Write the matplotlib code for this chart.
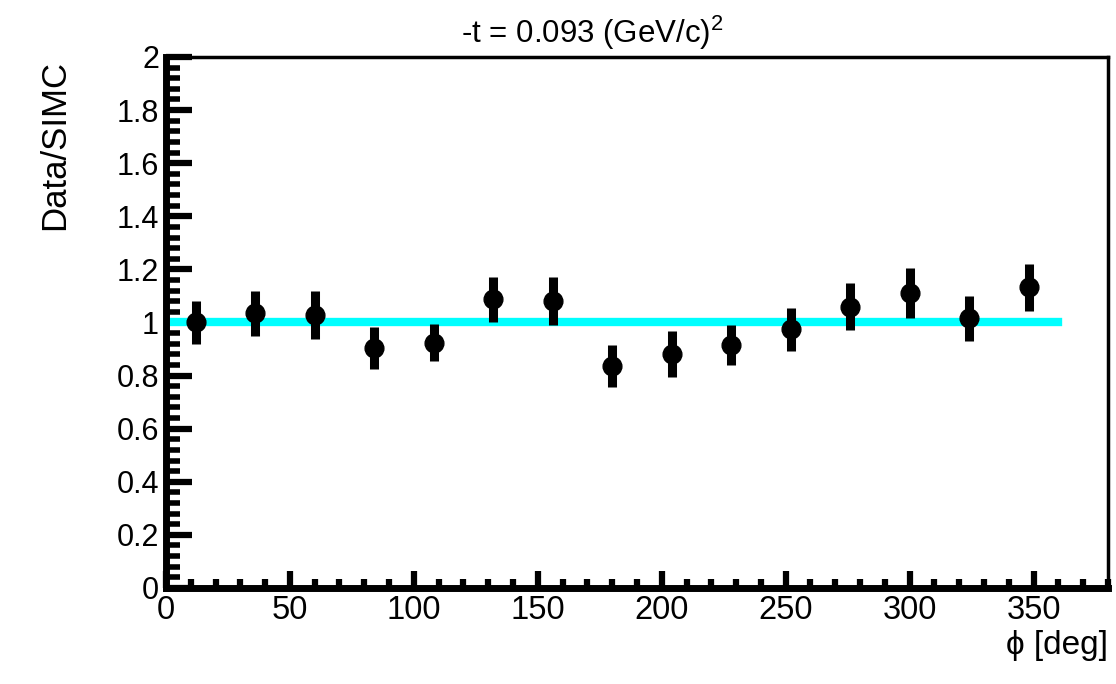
import matplotlib.pyplot as plt
from matplotlib.ticker import MultipleLocator

plt.rcParams['font.family'] = ['Liberation Sans', 'DejaVu Sans']
plt.rcParams['mathtext.fontset'] = 'custom'
plt.rcParams['mathtext.rm'] = 'Liberation Sans'
plt.rcParams['mathtext.it'] = 'Liberation Sans:italic'

# ====== Datos ======
phi = [12, 36, 60, 84, 108, 132, 156, 180, 204, 228, 252, 276, 300, 324, 348]
ratio = [1.00, 1.035, 1.028, 0.903, 0.924, 1.087, 1.082, 0.836, 0.881,
         0.915, 0.974, 1.06, 1.11, 1.016, 1.132]
err = [0.08, 0.085, 0.09, 0.08, 0.07, 0.085, 0.09, 0.08, 0.088,
       0.075, 0.08, 0.09, 0.094, 0.085, 0.088]

# linea de ajuste (constante)
fit_x = [0, 360]
fit_y = [1.003, 1.003]

fig = plt.figure(figsize=(11.16, 6.84), dpi=100)
ax = fig.add_axes([0.1487, 0.1404, 0.8441, 0.7763])

ax.plot(fit_x, fit_y, color='#00ffff', lw=6, zorder=2)
ax.errorbar(phi, ratio, yerr=err, fmt='o', ms=13.5, color='black',
            elinewidth=6.5, capsize=0, zorder=3)

ax.set_xlim(0, 380)
ax.set_ylim(0, 2)
ax.xaxis.set_major_locator(MultipleLocator(50))
ax.xaxis.set_minor_locator(MultipleLocator(10))
ax.yaxis.set_major_locator(MultipleLocator(0.2))
ax.yaxis.set_minor_locator(MultipleLocator(0.04))
ax.yaxis.set_major_formatter(plt.FuncFormatter(lambda v, p: f"{v:g}"))

ax.tick_params(axis='x', which='major', direction='in', length=12, width=4.5,
               labelsize=23.5, pad=5)
ax.tick_params(axis='x', which='minor', direction='in', length=6.5, width=4.5)
ax.tick_params(axis='y', which='major', direction='in', length=19, width=4.5,
               labelsize=22, pad=5)
ax.tick_params(axis='y', which='minor', direction='in', length=10, width=4)

ax.spines['left'].set_linewidth(5)
ax.spines['bottom'].set_linewidth(5)
ax.spines['top'].set_linewidth(2.5)
ax.spines['right'].set_linewidth(2.5)

fig.text(0.531, 1 - 43 / 684, "-t = 0.093 (GeV/c)$^2$", ha='center',
         va='baseline', fontsize=22.5)
ax.text(1.0, -0.08, "\u03d5 [deg]", transform=ax.transAxes, ha='right',
        va='top', fontsize=24)
ax.text(-0.118, 0.995, "Data/SIMC", transform=ax.transAxes, rotation=90,
        ha='center', va='top', fontsize=25)

plt.savefig("out.png", dpi=100)
